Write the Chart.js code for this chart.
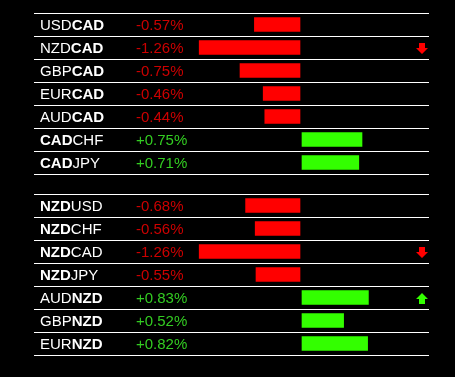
<!DOCTYPE html>
<html>
<head>
<meta charset="utf-8">
<script src="https://cdn.jsdelivr.net/npm/chart.js@4/dist/chart.umd.min.js"></script>
<style>
  body { margin: 0; background: #000; width: 455px; height: 377px; overflow: hidden; position: relative; }
  .board { position: absolute; left: 0; width: 455px; height: 188px; }
</style>
</head>
<body>
<div class="board" style="top:0"><canvas id="cadBoard"></canvas></div>
<div class="board" style="top:181px"><canvas id="nzdBoard"></canvas></div>
<script>
const cadPairs = ['USDCAD', 'NZDCAD', 'GBPCAD', 'EURCAD', 'AUDCAD', 'CADCHF', 'CADJPY']
const cadChanges = [-0.57, -1.26, -0.75, -0.46, -0.44, 0.75, 0.71]
const cadArrows = ['', 'down', '', '', '', '', '']

const nzdPairs = ['NZDUSD', 'NZDCHF', 'NZDCAD', 'NZDJPY', 'AUDNZD', 'GBPNZD', 'EURNZD']
const nzdChanges = [-0.68, -0.56, -1.26, -0.55, 0.83, 0.52, 0.82]
const nzdArrows = ['', '', 'down', '', 'up', '', '']

const FONT = '"Liberation Sans", Arial, sans-serif'
const RED = '#ff0000'
const GREEN = '#33ff00'

// draws pair names, percentages and trend arrows next to each row
const labelsPlugin = {
    id: 'rowLabels',
    afterDraw(chart, args, opts) {
        const ctx = chart.ctx
        const y = chart.scales.y
        ctx.save()
        ctx.textBaseline = 'middle'
        opts.pairs.forEach((pair, i) => {
            const py = y.getPixelForValue(i) + 1
            const first = pair.slice(0, 3)
            const second = pair.slice(3)
            let px = 40
            ctx.fillStyle = '#fff'
            ctx.font = (first === opts.focus ? 'bold ' : '') + '15px ' + FONT
            ctx.fillText(first, px, py)
            px += ctx.measureText(first).width
            ctx.font = (second === opts.focus ? 'bold ' : '') + '15px ' + FONT
            ctx.fillText(second, px, py)

            const v = opts.changes[i]
            ctx.font = '15px ' + FONT
            ctx.fillStyle = v < 0 ? '#cc0000' : '#33cc22'
            ctx.fillText((v > 0 ? '+' : '') + v.toFixed(2) + '%', 136, py)

            const dir = opts.arrows[i]
            if (dir) {
                const cx = 422
                const cy = y.getPixelForValue(i) + 1
                const s = dir === 'down' ? 1 : -1
                ctx.fillStyle = dir === 'down' ? RED : GREEN
                ctx.beginPath()
                ctx.moveTo(cx - 3, cy - s * 5.5)
                ctx.lineTo(cx + 3, cy - s * 5.5)
                ctx.lineTo(cx + 3, cy - s * 0.5)
                ctx.lineTo(cx + 6, cy - s * 0.5)
                ctx.lineTo(cx, cy + s * 5.5)
                ctx.lineTo(cx - 6, cy - s * 0.5)
                ctx.lineTo(cx - 3, cy - s * 0.5)
                ctx.closePath()
                ctx.fill()
            }
        })
        ctx.restore()
    }
}

function makeBoard(id, pairs, changes, arrows, focus) {
    return new Chart(document.getElementById(id), {
        type: 'bar',
        plugins: [labelsPlugin],
        data: {
            labels: pairs,
            datasets: [{
                data: changes.map(v => v < 0 ? v : null),
                backgroundColor: RED,
                xAxisID: 'x',
                grouped: false,
                barThickness: 14
            }, {
                data: changes.map(v => v > 0 ? v : null),
                backgroundColor: GREEN,
                xAxisID: 'x2',
                grouped: false,
                barThickness: 14
            }]
        },
        options: {
            indexAxis: 'y',
            animation: false,
            responsive: true,
            maintainAspectRatio: false,
            layout: { padding: { top: 13, bottom: 14, left: 34, right: 26 } },
            plugins: {
                legend: { display: false },
                tooltip: { enabled: false },
                rowLabels: { pairs: pairs, changes: changes, arrows: arrows, focus: focus }
            },
            scales: {
                x: { display: false, min: -3.325, max: 1.6125 },
                x2: { display: false, min: -3.35, max: 1.5875 },
                y: {
                    display: true,
                    ticks: { display: false },
                    border: { display: false },
                    grid: { color: '#fff', lineWidth: 1, offset: true, drawTicks: false, tickLength: 0 }
                }
            }
        }
    })
}

makeBoard('cadBoard', cadPairs, cadChanges, cadArrows, 'CAD')
makeBoard('nzdBoard', nzdPairs, nzdChanges, nzdArrows, 'NZD')
</script>
</body>
</html>
